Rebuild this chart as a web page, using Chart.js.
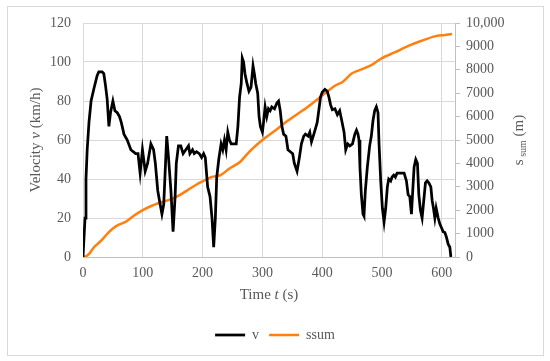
<!DOCTYPE html>
<html>
<head>
<meta charset="utf-8">
<script src="https://cdn.jsdelivr.net/npm/chart.js@4.4.1/dist/chart.umd.min.js"></script>
<style>
  html, body { margin: 0; padding: 0; background: #fff; }
</style>
</head>
<body>
<canvas id="chart" width="550" height="361"></canvas>
<script>
// velocity trace (time in s, velocity in km/h)
const timeV = [0, 3.4, 5, 7, 10, 13.5, 18, 23.6, 26.4, 32, 34.8, 37.6, 40.4, 43.3, 46, 50, 53.4, 57.3, 61, 64,
    68.5, 74, 80, 88, 92, 95.5, 99.4, 104, 108, 113.5, 118, 121, 125, 129, 132, 135, 140, 143, 147, 150.6,
    154, 156, 159.6, 163.5, 167.4, 171.9, 176.4, 178.7, 183.1, 186, 189.9, 194.4, 198.3, 201.7, 204.5, 208.4,
    212.4, 215.7, 218.5, 221.3, 223.6, 227, 230.9, 233.7, 236.5, 239.3, 242.1, 244.9, 247.8, 256.2, 259,
    261.8, 264.6, 266.3, 268.5, 270.8, 274.2, 277.5, 280.9, 284.3, 286.5, 288.8, 292.1, 294.4, 296.6, 300,
    302.2, 304.5, 307.3, 310.1, 312.9, 315.7, 320.2, 324.2, 327, 329.8, 332.6, 335.4, 339.3, 342.7, 346.6,
    350.6, 353.4, 357.9, 361.8, 365.2, 369.1, 371.9, 376.4, 379.2, 382, 386, 388.8, 391.6, 394.4, 397.2, 400,
    404.5, 408.4, 411.2, 414, 416.9, 421.3, 425.3, 429.2, 432.6, 436.5, 439.3, 442.7, 446.1, 450.6, 454.5,
    457.3, 459.8, 461.5, 463.1, 465.4, 468.2, 469.8, 472.1, 475.4, 479.3, 482.1, 484.9, 487.7, 490.5, 493.3,
    495, 497.8, 500.6, 503.4, 506.1, 508.9, 511.2, 514.5, 516.8, 519.6, 522.3, 525.1, 528.5, 532.4, 536.9,
    540.8, 543.6, 546.4, 549.2, 550.8, 553.6, 556.4, 559.2, 561.5, 564.2, 567, 570.4, 572.6, 575.4, 578.2,
    581.6, 583.8, 586, 588.3, 590.5, 593.9, 596.6, 599.4, 602.2, 605, 607.8, 610.6, 613.4, 615.1];
const velocity = [0, 20, 40, 55, 69, 80, 86, 93, 95, 95, 94, 88, 81, 67, 74, 80, 75, 74, 72, 69,
    63, 60, 55, 53, 53, 43, 55, 44, 48, 58, 55, 48, 34, 27, 22, 27, 62, 51, 34, 13,
    31, 48, 57, 57, 53, 55, 57, 53, 55, 53, 54, 53, 51, 53, 51, 36,
    31, 20, 5, 20, 41, 50, 58, 55, 60, 55, 64, 60, 58, 58, 67,
    82, 89, 102, 100, 94, 89, 85, 87, 98, 94, 89, 84, 72, 67, 64,
    70, 77, 72, 76, 75, 77, 76, 79, 80, 75, 67, 63, 62, 55, 54,
    53, 48, 44, 51, 58, 62, 63, 62, 64, 59, 63, 66, 69, 75.5, 82, 84.5,
    86, 85, 82, 78, 75.5, 76, 73, 75, 70, 64, 55, 58, 57, 58, 63,
    65, 63, 60, 46, 32, 22, 21, 34, 46, 57, 62, 70, 75, 77, 74,
    58, 39, 25, 18, 25, 36, 40, 39, 41, 42, 41, 43, 43, 43, 43,
    39, 32, 31, 22, 31, 46, 50, 48, 32, 24, 20, 31, 38, 39, 38,
    36, 29, 25, 20, 25, 20, 17, 15, 13, 12.6, 10, 6.6, 5, 0];

// cumulative distance (time in s, distance in m)
const timeS = [0, 5, 10, 15, 20, 28, 35, 42, 50, 60, 72, 85, 100, 115, 130, 145, 160, 175, 190, 200, 215,
    230, 245, 262, 280, 300, 322, 340, 355, 375, 400, 420, 434, 450, 467, 482, 500, 521, 544, 566, 588, 605, 617];
const distance = [0, 30, 130, 300, 460, 640, 830, 1030, 1220, 1380, 1510, 1760, 2000, 2190, 2330, 2450, 2620,
    2860, 3100, 3230, 3420, 3500, 3780, 4050, 4550, 5000, 5420, 5780, 6050, 6400, 6900, 7300, 7480, 7850, 8030,
    8200, 8500, 8740, 9020, 9240, 9430, 9490, 9530];

const xTicks = [0, 100, 200, 300, 400, 500, 600];
const rightTickLabels = ['0', '1000', '2000', '3000', '4000', '5000', '6000', '7000', '8000', '9000', '10,000'];

const textGray = '#595959';
const gridGray = '#d9d9d9';
const serif = '"Liberation Serif", "Times New Roman", serif';

// axis titles with italic / subscript parts, drawn on the canvas
const axisTitles = {
    id: 'axisTitles',
    beforeDraw(chart) {
        const { ctx } = chart;
        ctx.save();
        ctx.strokeStyle = gridGray;
        ctx.lineWidth = 1;
        ctx.strokeRect(7.5, 6.5, 536, 349);
        ctx.restore();
    },
    afterDraw(chart) {
        const { ctx, chartArea } = chart;
        const midY = (chartArea.top + chartArea.bottom) / 2;
        const midX = (chartArea.left + chartArea.right) / 2;

        const drawRuns = (runs, cx, cy, rotate) => {
            ctx.save();
            ctx.translate(cx, cy);
            if (rotate) ctx.rotate(-Math.PI / 2);
            ctx.fillStyle = textGray;
            ctx.textBaseline = 'middle';
            let total = 0;
            runs.forEach((r) => {
                ctx.font = r.font;
                total += ctx.measureText(r.text).width;
            });
            let x = -total / 2;
            runs.forEach((r) => {
                ctx.font = r.font;
                ctx.fillText(r.text, x, r.dy || 0);
                x += ctx.measureText(r.text).width;
            });
            ctx.restore();
        };

        drawRuns([
            { text: 'Velocity ', font: `15px ${serif}` },
            { text: 'v', font: `italic 15px ${serif}` },
            { text: ' (km/h)', font: `15px ${serif}` },
        ], 36, midY, true);

        drawRuns([
            { text: 'Time ', font: `15px ${serif}` },
            { text: 't', font: `italic 15px ${serif}` },
            { text: ' (s)', font: `15px ${serif}` },
        ], midX, 295, false);

        drawRuns([
            { text: 's', font: `15px ${serif}` },
            { text: ' sum', font: `10px ${serif}`, dy: 4 },
            { text: ' (m)', font: `15px ${serif}` },
        ], 519, midY, true);
    }
};

const ctx = document.getElementById('chart');

new Chart(ctx, {
    type: 'line',
    data: {
        datasets: [
            {
                label: 'v',
                data: timeV.map((t, i) => ({ x: t, y: velocity[i] })),
                borderColor: '#000000',
                backgroundColor: '#000000',
                borderWidth: 2.75,
                pointRadius: 0,
                tension: 0,
                yAxisID: 'y',
            },
            {
                label: 'ssum',
                data: timeS.map((t, i) => ({ x: t, y: distance[i] })),
                borderColor: '#FF7F0F',
                backgroundColor: '#FF7F0F',
                borderWidth: 2.5,
                pointRadius: 0,
                tension: 0.3,
                yAxisID: 'y2',
            },
        ]
    },
    options: {
        responsive: false,
        animation: false,
        layout: {
            padding: { top: 23, bottom: 9, left: 0, right: 0 },
        },
        plugins: {
            legend: {
                position: 'bottom',
                labels: {
                    usePointStyle: true,
                    pointStyle: 'line',
                    pointStyleWidth: 30,
                    color: textGray,
                    font: { size: 14, family: serif },
                    padding: 10,
                },
            },
            tooltip: { enabled: false },
        },
        scales: {
            x: {
                type: 'linear',
                min: 0,
                max: 622,
                afterBuildTicks: (axis) => { axis.ticks = xTicks.map((v) => ({ value: v })); },
                afterFit: (axis) => { axis.height = 61; },
                grid: { color: gridGray, drawTicks: false },
                border: { color: '#bfbfbf' },
                ticks: {
                    color: textGray,
                    font: { size: 14, family: serif },
                    padding: 8,
                    maxRotation: 0,
                },
            },
            y: {
                position: 'left',
                min: 0,
                max: 120,
                afterFit: (axis) => { axis.width = 83; },
                grid: { color: gridGray, drawTicks: false },
                border: { display: false },
                ticks: {
                    stepSize: 20,
                    color: textGray,
                    font: { size: 14, family: serif },
                    padding: 12,
                },
            },
            y2: {
                position: 'right',
                min: 0,
                max: 10000,
                afterFit: (axis) => { axis.width = 95; },
                grid: { drawOnChartArea: false, drawTicks: true, tickLength: 5, color: '#bfbfbf' },
                border: { display: true, color: '#bfbfbf' },
                ticks: {
                    stepSize: 1000,
                    color: textGray,
                    font: { size: 14, family: serif },
                    padding: 6,
                    callback: (value, index) => rightTickLabels[index],
                },
            },
        }
    },
    plugins: [axisTitles]
});
</script>
</body>
</html>
